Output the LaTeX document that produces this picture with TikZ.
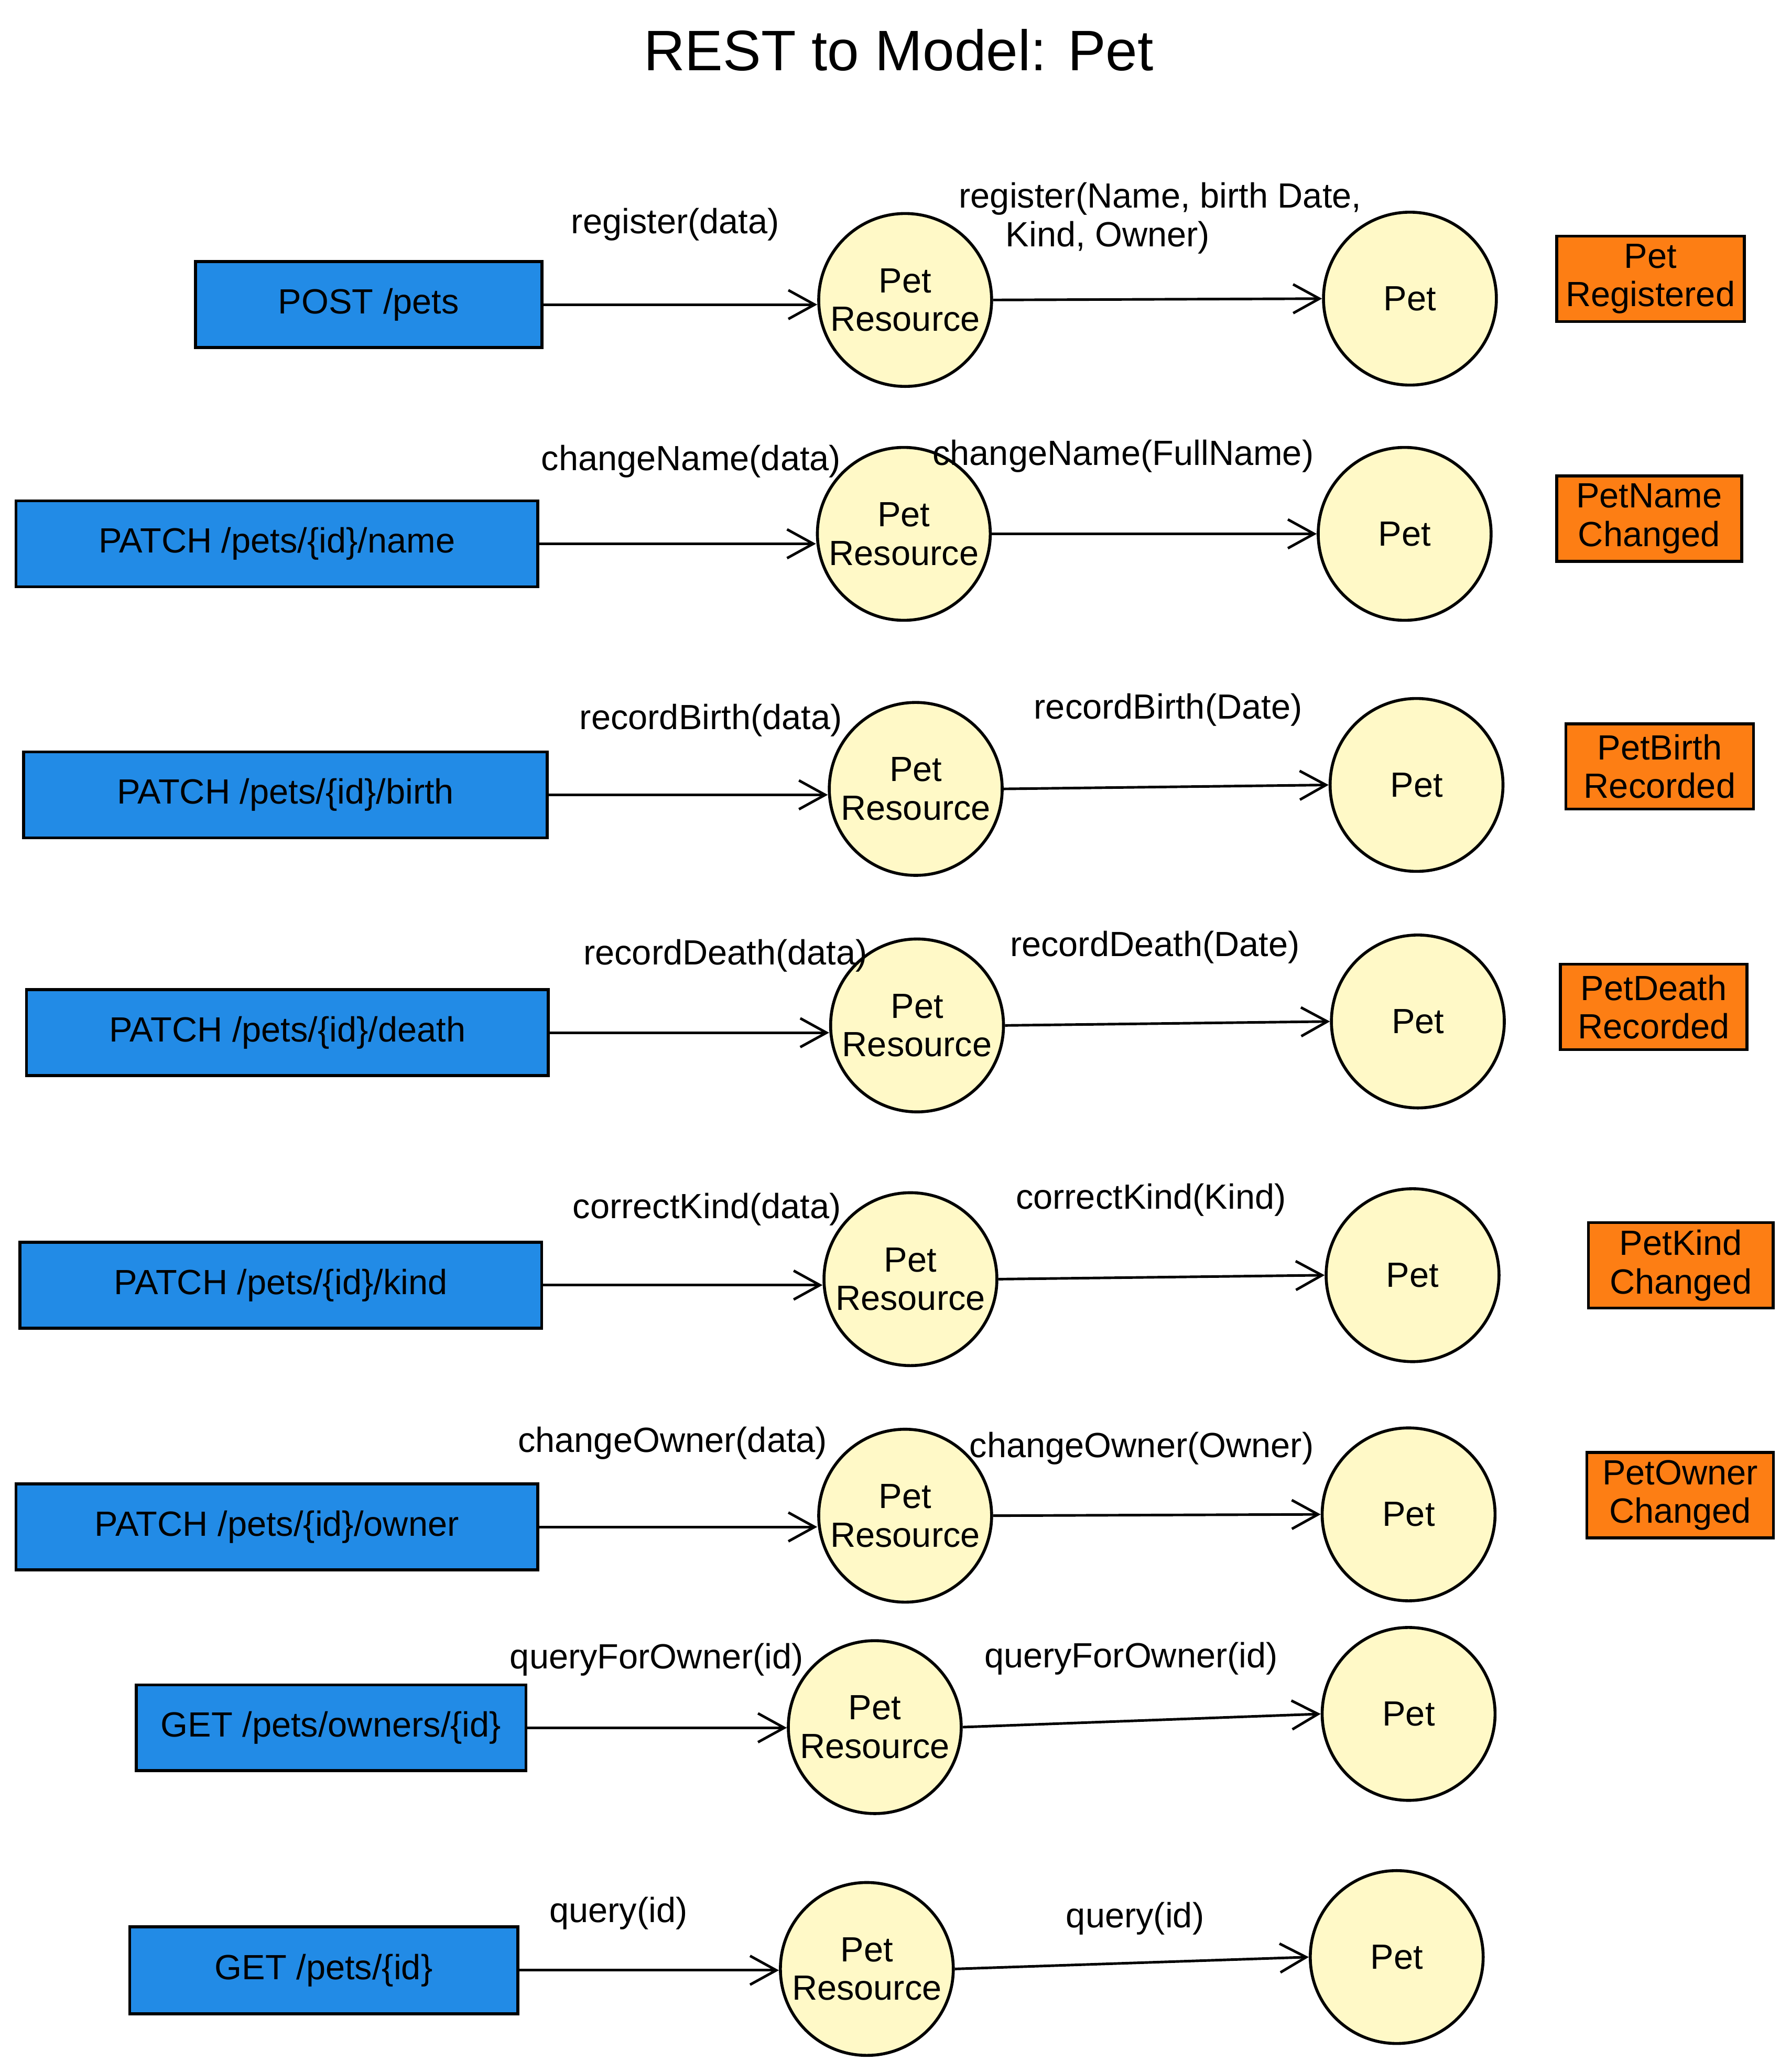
\documentclass[tikz,border=0pt]{standalone}
\usepackage{fontspec}
\setmainfont{Liberation Sans}
\usetikzlibrary{arrows.meta}
\definecolor{reqblue}{HTML}{228BE6}
\definecolor{evtorange}{HTML}{FD7E14}
\definecolor{objyellow}{HTML}{FFF9C7}
\tikzset{
  txt/.style={font=\fontsize{19}{21}\selectfont, align=center, inner sep=0pt},
  request/.style={txt, draw=black, line width=1.6pt, fill=reqblue, minimum height=1.64cm},
  event/.style={txt, draw=black, line width=1.6pt, fill=evtorange, minimum height=1.63cm},
  obj/.style={txt, circle, draw=black, line width=1.6pt, fill=objyellow, minimum size=3.3cm},
  call/.style={txt},
  flow/.style={-{Straight Barb[length=5mm,width=5.5mm]}, line width=1.4pt},
}
% request box -> resource (level with the box) -> pet
\newcommand{\wire}[3]{%
  \draw[flow] (#1.east) -- (#1.east -| #2.west);
  \draw[flow] (#2.east) -- (#3.west);}
\begin{document}
\begin{tikzpicture}[x=0.02522cm, y=-0.02522cm]
\useasboundingbox (0,0) rectangle (1355,1568);

\node[txt, font=\fontsize{31}{36}\selectfont] (title) at (680,38) {REST to Model: Pet};

% POST /pets
\node[request, minimum width=6.61cm] (req1) at (279,230.5) {POST /pets};
\node[obj] (res1) at (685,227) {Pet\\Resource};
\node[obj] (pet1) at (1067,226) {Pet};
\node[event, minimum width=3.58cm] (ev1) at (1249,211) {Pet\\Registered};
\node[call] (c1a) at (511,170) {register(data)};
\node[call] (c1b) at (878,165) {register(Name, birth Date,\\Kind, Owner)\hspace*{2cm}};
\wire{req1}{res1}{pet1}

% PATCH name
\node[request, minimum width=9.96cm] (req2) at (209.5,411.5) {PATCH /pets/\{id\}/name};
\node[obj] (res2) at (684,404) {Pet\\Resource};
\node[obj] (pet2) at (1063,404) {Pet};
\node[event, minimum width=3.53cm] (ev2) at (1248,392.5) {PetName\\Changed};
\node[call] (c2a) at (523,349) {changeName(data)};
\node[call] (c2b) at (850,345) {changeName(FullName)};
\wire{req2}{res2}{pet2}

% PATCH birth
\node[request, minimum width=9.99cm] (req3) at (216,601.5) {PATCH /pets/\{id\}/birth};
\node[obj] (res3) at (693,597) {Pet\\Resource};
\node[obj] (pet3) at (1072,594) {Pet};
\node[event, minimum width=3.58cm] (ev3) at (1256,580) {PetBirth\\Recorded};
\node[call] (c3a) at (538,545) {recordBirth(data)};
\node[call] (c3b) at (884,537) {recordBirth(Date)};
\wire{req3}{res3}{pet3}

% PATCH death
\node[request, minimum width=9.96cm] (req4) at (217.5,781.5) {PATCH /pets/\{id\}/death};
\node[obj] (res4) at (694,776) {Pet\\Resource};
\node[obj] (pet4) at (1073,773) {Pet};
\node[event, minimum width=3.56cm] (ev4) at (1251.5,762) {PetDeath\\Recorded};
\node[call] (c4a) at (549,723) {recordDeath(data)};
\node[call] (c4b) at (874,717) {recordDeath(Date)};
\wire{req4}{res4}{pet4}

% PATCH kind
\node[request, minimum width=9.96cm] (req5) at (212.5,972.5) {PATCH /pets/\{id\}/kind};
\node[obj] (res5) at (689,968) {Pet\\Resource};
\node[obj] (pet5) at (1069,965) {Pet};
\node[event, minimum width=3.53cm] (ev5) at (1272,957.5) {PetKind\\Changed};
\node[call] (c5a) at (535,915) {correctKind(data)};
\node[call] (c5b) at (871,908) {correctKind(Kind)};
\wire{req5}{res5}{pet5}

% PATCH owner
\node[request, minimum width=9.96cm] (req6) at (209.5,1155.5) {PATCH /pets/\{id\}/owner};
\node[obj] (res6) at (685,1147) {Pet\\Resource};
\node[obj] (pet6) at (1066,1146) {Pet};
\node[event, minimum width=3.56cm] (ev6) at (1271.5,1131.5) {PetOwner\\Changed};
\node[call] (c6a) at (509,1092) {changeOwner(data)};
\node[call] (c6b) at (864,1096) {changeOwner(Owner)};
\wire{req6}{res6}{pet6}

% GET by owner
\node[request, minimum width=7.44cm] (req7) at (250.5,1307.5) {GET /pets/owners/\{id\}};
\node[obj] (res7) at (662,1307) {Pet\\Resource};
\node[obj] (pet7) at (1066,1297) {Pet};
\node[call] (c7a) at (497,1256) {queryForOwner(id)};
\node[call] (c7b) at (856,1255) {queryForOwner(id)};
\wire{req7}{res7}{pet7}

% GET by id
\node[request, minimum width=7.41cm, minimum height=1.66cm] (req8) at (245,1491) {GET /pets/\{id\}};
\node[obj] (res8) at (656,1490) {Pet\\Resource};
\node[obj] (pet8) at (1057,1481) {Pet};
\node[call] (c8a) at (468,1448) {query(id)};
\node[call] (c8b) at (859,1452) {query(id)};
\wire{req8}{res8}{pet8}
\end{tikzpicture}
\end{document}
